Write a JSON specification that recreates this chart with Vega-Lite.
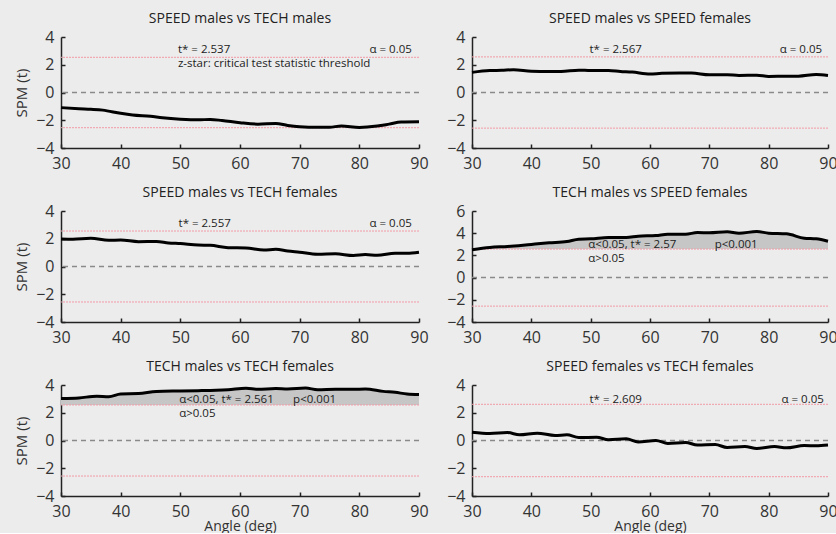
{
  "$schema": "https://vega.github.io/schema/vega-lite/v6.json",
  "background": "#ececec",
  "padding": {"left": 14, "top": 12, "right": 0, "bottom": 0},
  "config": {
    "view": {"stroke": null},
    "font": "Open Sans",
    "title": {"fontSize": 14, "fontWeight": "normal", "color": "#222", "offset": 3, "font": "Open Sans"},
    "axis": {"grid": false, "domainColor": "#222", "domainWidth": 1.5, "tickColor": "#222", "tickWidth": 1.5, "tickSize": -4, "labelPadding": 11, "labelFontSize": 16, "labelColor": "#333", "labelFont": "Open Sans", "titleFontSize": 15, "titleFontWeight": "normal", "titleColor": "#333", "titleFont": "Open Sans", "labelFlush": false, "labelOverlap": false, "tickCount": 7, "format": "d"},
    "axisY": {"titlePadding": 6},
    "axisX": {"titlePadding": 0, "titleFontSize": 14}
  },
  "datasets": {
    "curves": [
      {"panel": "A", "angle": 30, "t": -1.09}, {"panel": "A", "angle": 33, "t": -1.17}, {"panel": "A", "angle": 35, "t": -1.21}, {"panel": "A", "angle": 37, "t": -1.27}, {"panel": "A", "angle": 40, "t": -1.5}, {"panel": "A", "angle": 42, "t": -1.62}, {"panel": "A", "angle": 45, "t": -1.72}, {"panel": "A", "angle": 47, "t": -1.82}, {"panel": "A", "angle": 50, "t": -1.92}, {"panel": "A", "angle": 53, "t": -1.97}, {"panel": "A", "angle": 55, "t": -1.94}, {"panel": "A", "angle": 57, "t": -2.02}, {"panel": "A", "angle": 60, "t": -2.18}, {"panel": "A", "angle": 63, "t": -2.28}, {"panel": "A", "angle": 66, "t": -2.23}, {"panel": "A", "angle": 68, "t": -2.38}, {"panel": "A", "angle": 70, "t": -2.47}, {"panel": "A", "angle": 73, "t": -2.51}, {"panel": "A", "angle": 75, "t": -2.5}, {"panel": "A", "angle": 77, "t": -2.42}, {"panel": "A", "angle": 80, "t": -2.52}, {"panel": "A", "angle": 83, "t": -2.42}, {"panel": "A", "angle": 85, "t": -2.28}, {"panel": "A", "angle": 87, "t": -2.13}, {"panel": "A", "angle": 90, "t": -2.11},
      {"panel": "B", "angle": 30, "t": 1.45}, {"panel": "B", "angle": 33, "t": 1.58}, {"panel": "B", "angle": 35, "t": 1.6}, {"panel": "B", "angle": 37, "t": 1.64}, {"panel": "B", "angle": 40, "t": 1.54}, {"panel": "B", "angle": 43, "t": 1.52}, {"panel": "B", "angle": 45, "t": 1.52}, {"panel": "B", "angle": 48, "t": 1.61}, {"panel": "B", "angle": 50, "t": 1.58}, {"panel": "B", "angle": 53, "t": 1.59}, {"panel": "B", "angle": 55, "t": 1.52}, {"panel": "B", "angle": 57, "t": 1.47}, {"panel": "B", "angle": 60, "t": 1.33}, {"panel": "B", "angle": 62, "t": 1.38}, {"panel": "B", "angle": 65, "t": 1.4}, {"panel": "B", "angle": 67, "t": 1.4}, {"panel": "B", "angle": 70, "t": 1.28}, {"panel": "B", "angle": 73, "t": 1.28}, {"panel": "B", "angle": 75, "t": 1.23}, {"panel": "B", "angle": 78, "t": 1.25}, {"panel": "B", "angle": 80, "t": 1.16}, {"panel": "B", "angle": 83, "t": 1.18}, {"panel": "B", "angle": 85, "t": 1.18}, {"panel": "B", "angle": 88, "t": 1.3}, {"panel": "B", "angle": 90, "t": 1.23},
      {"panel": "C", "angle": 30, "t": 1.98}, {"panel": "C", "angle": 32, "t": 1.96}, {"panel": "C", "angle": 35, "t": 2.03}, {"panel": "C", "angle": 38, "t": 1.89}, {"panel": "C", "angle": 40, "t": 1.91}, {"panel": "C", "angle": 43, "t": 1.79}, {"panel": "C", "angle": 46, "t": 1.81}, {"panel": "C", "angle": 48, "t": 1.7}, {"panel": "C", "angle": 50, "t": 1.65}, {"panel": "C", "angle": 53, "t": 1.55}, {"panel": "C", "angle": 55, "t": 1.53}, {"panel": "C", "angle": 58, "t": 1.36}, {"panel": "C", "angle": 61, "t": 1.34}, {"panel": "C", "angle": 64, "t": 1.19}, {"panel": "C", "angle": 66, "t": 1.24}, {"panel": "C", "angle": 68, "t": 1.12}, {"panel": "C", "angle": 70, "t": 1.03}, {"panel": "C", "angle": 73, "t": 0.88}, {"panel": "C", "angle": 76, "t": 0.91}, {"panel": "C", "angle": 79, "t": 0.79}, {"panel": "C", "angle": 81, "t": 0.86}, {"panel": "C", "angle": 83, "t": 0.81}, {"panel": "C", "angle": 86, "t": 0.95}, {"panel": "C", "angle": 88, "t": 0.95}, {"panel": "C", "angle": 90, "t": 1.03},
      {"panel": "D", "angle": 30, "t": 2.51}, {"panel": "D", "angle": 33, "t": 2.72}, {"panel": "D", "angle": 36, "t": 2.8}, {"panel": "D", "angle": 40, "t": 2.99}, {"panel": "D", "angle": 43, "t": 3.13}, {"panel": "D", "angle": 46, "t": 3.25}, {"panel": "D", "angle": 48, "t": 3.46}, {"panel": "D", "angle": 50, "t": 3.49}, {"panel": "D", "angle": 53, "t": 3.61}, {"panel": "D", "angle": 56, "t": 3.61}, {"panel": "D", "angle": 58, "t": 3.73}, {"panel": "D", "angle": 61, "t": 3.79}, {"panel": "D", "angle": 63, "t": 3.91}, {"panel": "D", "angle": 66, "t": 3.91}, {"panel": "D", "angle": 68, "t": 4.06}, {"panel": "D", "angle": 70, "t": 4.03}, {"panel": "D", "angle": 73, "t": 4.12}, {"panel": "D", "angle": 75, "t": 4.0}, {"panel": "D", "angle": 78, "t": 4.15}, {"panel": "D", "angle": 80, "t": 4.0}, {"panel": "D", "angle": 83, "t": 3.94}, {"panel": "D", "angle": 86, "t": 3.55}, {"panel": "D", "angle": 88, "t": 3.49}, {"panel": "D", "angle": 90, "t": 3.28},
      {"panel": "E", "angle": 30, "t": 3.02}, {"panel": "E", "angle": 33, "t": 3.07}, {"panel": "E", "angle": 36, "t": 3.19}, {"panel": "E", "angle": 38, "t": 3.16}, {"panel": "E", "angle": 40, "t": 3.35}, {"panel": "E", "angle": 43, "t": 3.38}, {"panel": "E", "angle": 46, "t": 3.54}, {"panel": "E", "angle": 50, "t": 3.57}, {"panel": "E", "angle": 53, "t": 3.59}, {"panel": "E", "angle": 56, "t": 3.62}, {"panel": "E", "angle": 58, "t": 3.66}, {"panel": "E", "angle": 61, "t": 3.76}, {"panel": "E", "angle": 63, "t": 3.69}, {"panel": "E", "angle": 66, "t": 3.74}, {"panel": "E", "angle": 68, "t": 3.71}, {"panel": "E", "angle": 71, "t": 3.78}, {"panel": "E", "angle": 73, "t": 3.66}, {"panel": "E", "angle": 76, "t": 3.69}, {"panel": "E", "angle": 79, "t": 3.69}, {"panel": "E", "angle": 81, "t": 3.71}, {"panel": "E", "angle": 84, "t": 3.54}, {"panel": "E", "angle": 86, "t": 3.47}, {"panel": "E", "angle": 88, "t": 3.35}, {"panel": "E", "angle": 90, "t": 3.31},
      {"panel": "F", "angle": 30, "t": 0.6}, {"panel": "F", "angle": 33, "t": 0.5}, {"panel": "F", "angle": 36, "t": 0.57}, {"panel": "F", "angle": 38, "t": 0.41}, {"panel": "F", "angle": 41, "t": 0.53}, {"panel": "F", "angle": 44, "t": 0.36}, {"panel": "F", "angle": 46, "t": 0.41}, {"panel": "F", "angle": 48, "t": 0.21}, {"panel": "F", "angle": 51, "t": 0.24}, {"panel": "F", "angle": 53, "t": 0.05}, {"panel": "F", "angle": 56, "t": 0.12}, {"panel": "F", "angle": 58, "t": -0.1}, {"panel": "F", "angle": 61, "t": 0.0}, {"panel": "F", "angle": 63, "t": -0.21}, {"panel": "F", "angle": 66, "t": -0.14}, {"panel": "F", "angle": 68, "t": -0.33}, {"panel": "F", "angle": 71, "t": -0.29}, {"panel": "F", "angle": 73, "t": -0.5}, {"panel": "F", "angle": 76, "t": -0.43}, {"panel": "F", "angle": 78, "t": -0.57}, {"panel": "F", "angle": 81, "t": -0.43}, {"panel": "F", "angle": 83, "t": -0.53}, {"panel": "F", "angle": 86, "t": -0.36}, {"panel": "F", "angle": 88, "t": -0.38}, {"panel": "F", "angle": 90, "t": -0.33}
    ],
    "lines": [
      {"panel": "A", "kind": "threshold", "t": 2.537}, {"panel": "A", "kind": "threshold", "t": -2.537}, {"panel": "A", "kind": "zero", "t": 0},
      {"panel": "B", "kind": "threshold", "t": 2.567}, {"panel": "B", "kind": "threshold", "t": -2.567}, {"panel": "B", "kind": "zero", "t": 0},
      {"panel": "C", "kind": "threshold", "t": 2.557}, {"panel": "C", "kind": "threshold", "t": -2.557}, {"panel": "C", "kind": "zero", "t": 0},
      {"panel": "D", "kind": "threshold", "t": 2.57}, {"panel": "D", "kind": "threshold", "t": -2.57}, {"panel": "D", "kind": "zero", "t": 0},
      {"panel": "E", "kind": "threshold", "t": 2.561}, {"panel": "E", "kind": "threshold", "t": -2.561}, {"panel": "E", "kind": "zero", "t": 0},
      {"panel": "F", "kind": "threshold", "t": 2.609}, {"panel": "F", "kind": "threshold", "t": -2.609}, {"panel": "F", "kind": "zero", "t": 0}
    ]
  },
  "columns": 2,
  "spacing": {"row": 15, "column": 17},
  "concat": [
    {
      "width": 358, "height": 111,
      "title": "SPEED males vs TECH males",
      "layer": [
        {"data": {"name": "lines"}, "transform": [{"filter": "datum.panel === 'A' && datum.kind === 'threshold'"}], "mark": {"type": "rule", "color": "#f29aa6", "strokeWidth": 1, "strokeDash": [2, 1]}, "encoding": {"y": {"field": "t", "type": "quantitative"}}},
        {"data": {"name": "lines"}, "transform": [{"filter": "datum.panel === 'A' && datum.kind === 'zero'"}], "mark": {"type": "rule", "color": "#8a8a8a", "strokeWidth": 1.5, "strokeDash": [5, 4]}, "encoding": {"y": {"field": "t", "type": "quantitative"}}},
        {"data": {"name": "curves"}, "transform": [{"filter": "datum.panel === 'A'"}], "mark": {"type": "line", "color": "#000", "strokeWidth": 3, "interpolate": "monotone"},
         "encoding": {
           "x": {"field": "angle", "type": "quantitative", "scale": {"domain": [30, 90], "nice": false}, "axis": {"values": [30, 40, 50, 60, 70, 80, 90], "title": null}},
           "y": {"field": "t", "type": "quantitative", "scale": {"domain": [-4, 4], "nice": false}, "axis": {"values": [-4, -2, 0, 2, 4], "title": "SPM (t)"}}}},
        {"data": {"name": "lines"}, "transform": [{"filter": "datum.panel === 'A' && datum.kind === 'zero'"}], "mark": {"type": "text", "text": "t* = 2.537", "align": "left", "baseline": "middle", "fontSize": 11.5, "color": "#222"}, "encoding": {"x": {"datum": 49.6, "type": "quantitative"}, "y": {"datum": 3.05, "type": "quantitative"}}},
        {"data": {"name": "lines"}, "transform": [{"filter": "datum.panel === 'A' && datum.kind === 'zero'"}], "mark": {"type": "text", "text": "z-star: critical test statistic threshold", "align": "left", "baseline": "middle", "fontSize": 11.5, "color": "#222"}, "encoding": {"x": {"datum": 49.6, "type": "quantitative"}, "y": {"datum": 2.03, "type": "quantitative"}}},
        {"data": {"name": "lines"}, "transform": [{"filter": "datum.panel === 'A' && datum.kind === 'zero'"}], "mark": {"type": "text", "text": "α = 0.05", "align": "right", "baseline": "middle", "fontSize": 11.5, "color": "#222"}, "encoding": {"x": {"datum": 88.8, "type": "quantitative"}, "y": {"datum": 3.05, "type": "quantitative"}}}
      ]
    },
    {
      "width": 356, "height": 111,
      "title": "SPEED males vs SPEED females",
      "layer": [
        {"data": {"name": "lines"}, "transform": [{"filter": "datum.panel === 'B' && datum.kind === 'threshold'"}], "mark": {"type": "rule", "color": "#f29aa6", "strokeWidth": 1, "strokeDash": [2, 1]}, "encoding": {"y": {"field": "t", "type": "quantitative"}}},
        {"data": {"name": "lines"}, "transform": [{"filter": "datum.panel === 'B' && datum.kind === 'zero'"}], "mark": {"type": "rule", "color": "#8a8a8a", "strokeWidth": 1.5, "strokeDash": [5, 4]}, "encoding": {"y": {"field": "t", "type": "quantitative"}}},
        {"data": {"name": "curves"}, "transform": [{"filter": "datum.panel === 'B'"}], "mark": {"type": "line", "color": "#000", "strokeWidth": 3, "interpolate": "monotone"},
         "encoding": {
           "x": {"field": "angle", "type": "quantitative", "scale": {"domain": [30, 90], "nice": false}, "axis": {"values": [30, 40, 50, 60, 70, 80, 90], "title": null}},
           "y": {"field": "t", "type": "quantitative", "scale": {"domain": [-4, 4], "nice": false}, "axis": {"values": [-4, -2, 0, 2, 4], "title": null}}}},
        {"data": {"name": "lines"}, "transform": [{"filter": "datum.panel === 'B' && datum.kind === 'zero'"}], "mark": {"type": "text", "text": "t* = 2.567", "align": "left", "baseline": "middle", "fontSize": 11.5, "color": "#222"}, "encoding": {"x": {"datum": 49.8, "type": "quantitative"}, "y": {"datum": 3.05, "type": "quantitative"}}},
        {"data": {"name": "lines"}, "transform": [{"filter": "datum.panel === 'B' && datum.kind === 'zero'"}], "mark": {"type": "text", "text": "α = 0.05", "align": "right", "baseline": "middle", "fontSize": 11.5, "color": "#222"}, "encoding": {"x": {"datum": 89.0, "type": "quantitative"}, "y": {"datum": 3.05, "type": "quantitative"}}}
      ]
    },
    {
      "width": 358, "height": 111,
      "title": "SPEED males vs TECH females",
      "layer": [
        {"data": {"name": "lines"}, "transform": [{"filter": "datum.panel === 'C' && datum.kind === 'threshold'"}], "mark": {"type": "rule", "color": "#f29aa6", "strokeWidth": 1, "strokeDash": [2, 1]}, "encoding": {"y": {"field": "t", "type": "quantitative"}}},
        {"data": {"name": "lines"}, "transform": [{"filter": "datum.panel === 'C' && datum.kind === 'zero'"}], "mark": {"type": "rule", "color": "#8a8a8a", "strokeWidth": 1.5, "strokeDash": [5, 4]}, "encoding": {"y": {"field": "t", "type": "quantitative"}}},
        {"data": {"name": "curves"}, "transform": [{"filter": "datum.panel === 'C'"}], "mark": {"type": "line", "color": "#000", "strokeWidth": 3, "interpolate": "monotone"},
         "encoding": {
           "x": {"field": "angle", "type": "quantitative", "scale": {"domain": [30, 90], "nice": false}, "axis": {"values": [30, 40, 50, 60, 70, 80, 90], "title": null}},
           "y": {"field": "t", "type": "quantitative", "scale": {"domain": [-4, 4], "nice": false}, "axis": {"values": [-4, -2, 0, 2, 4], "title": "SPM (t)"}}}},
        {"data": {"name": "lines"}, "transform": [{"filter": "datum.panel === 'C' && datum.kind === 'zero'"}], "mark": {"type": "text", "text": "t* = 2.557", "align": "left", "baseline": "middle", "fontSize": 11.5, "color": "#222"}, "encoding": {"x": {"datum": 49.7, "type": "quantitative"}, "y": {"datum": 3.05, "type": "quantitative"}}},
        {"data": {"name": "lines"}, "transform": [{"filter": "datum.panel === 'C' && datum.kind === 'zero'"}], "mark": {"type": "text", "text": "α = 0.05", "align": "right", "baseline": "middle", "fontSize": 11.5, "color": "#222"}, "encoding": {"x": {"datum": 88.8, "type": "quantitative"}, "y": {"datum": 3.05, "type": "quantitative"}}}
      ]
    },
    {
      "width": 356, "height": 111,
      "title": "TECH males vs SPEED females",
      "layer": [
        {"data": {"name": "curves"}, "transform": [{"filter": "datum.panel === 'D'"}], "mark": {"type": "area", "color": "#c6c6c6", "opacity": 1, "interpolate": "monotone"}, "encoding": {"x": {"field": "angle", "type": "quantitative"}, "y": {"field": "t", "type": "quantitative"}, "y2": {"datum": 2.57}}},
        {"data": {"name": "lines"}, "transform": [{"filter": "datum.panel === 'D' && datum.kind === 'threshold'"}], "mark": {"type": "rule", "color": "#f29aa6", "strokeWidth": 1, "strokeDash": [2, 1]}, "encoding": {"y": {"field": "t", "type": "quantitative"}}},
        {"data": {"name": "lines"}, "transform": [{"filter": "datum.panel === 'D' && datum.kind === 'zero'"}], "mark": {"type": "rule", "color": "#8a8a8a", "strokeWidth": 1.5, "strokeDash": [5, 4]}, "encoding": {"y": {"field": "t", "type": "quantitative"}}},
        {"data": {"name": "curves"}, "transform": [{"filter": "datum.panel === 'D'"}], "mark": {"type": "line", "color": "#000", "strokeWidth": 3, "interpolate": "monotone"},
         "encoding": {
           "x": {"field": "angle", "type": "quantitative", "scale": {"domain": [30, 90], "nice": false}, "axis": {"values": [30, 40, 50, 60, 70, 80, 90], "title": null}},
           "y": {"field": "t", "type": "quantitative", "scale": {"domain": [-4, 6], "nice": false}, "axis": {"values": [-4, -2, 0, 2, 4, 6], "title": null}}}},
        {"data": {"name": "lines"}, "transform": [{"filter": "datum.panel === 'D' && datum.kind === 'zero'"}], "mark": {"type": "text", "text": "α<0.05, t* = 2.57", "align": "left", "baseline": "middle", "fontSize": 11.5, "color": "#222"}, "encoding": {"x": {"datum": 49.6, "type": "quantitative"}, "y": {"datum": 2.96, "type": "quantitative"}}},
        {"data": {"name": "lines"}, "transform": [{"filter": "datum.panel === 'D' && datum.kind === 'zero'"}], "mark": {"type": "text", "text": "p<0.001", "align": "left", "baseline": "middle", "fontSize": 11.5, "color": "#222"}, "encoding": {"x": {"datum": 70.9, "type": "quantitative"}, "y": {"datum": 2.96, "type": "quantitative"}}},
        {"data": {"name": "lines"}, "transform": [{"filter": "datum.panel === 'D' && datum.kind === 'zero'"}], "mark": {"type": "text", "text": "α>0.05", "align": "left", "baseline": "middle", "fontSize": 11.5, "color": "#222"}, "encoding": {"x": {"datum": 49.6, "type": "quantitative"}, "y": {"datum": 1.72, "type": "quantitative"}}}
      ]
    },
    {
      "width": 358, "height": 111,
      "title": "TECH males vs TECH females",
      "layer": [
        {"data": {"name": "curves"}, "transform": [{"filter": "datum.panel === 'E'"}], "mark": {"type": "area", "color": "#c6c6c6", "opacity": 1, "interpolate": "monotone"}, "encoding": {"x": {"field": "angle", "type": "quantitative"}, "y": {"field": "t", "type": "quantitative"}, "y2": {"datum": 2.561}}},
        {"data": {"name": "lines"}, "transform": [{"filter": "datum.panel === 'E' && datum.kind === 'threshold'"}], "mark": {"type": "rule", "color": "#f29aa6", "strokeWidth": 1, "strokeDash": [2, 1]}, "encoding": {"y": {"field": "t", "type": "quantitative"}}},
        {"data": {"name": "lines"}, "transform": [{"filter": "datum.panel === 'E' && datum.kind === 'zero'"}], "mark": {"type": "rule", "color": "#8a8a8a", "strokeWidth": 1.5, "strokeDash": [5, 4]}, "encoding": {"y": {"field": "t", "type": "quantitative"}}},
        {"data": {"name": "curves"}, "transform": [{"filter": "datum.panel === 'E'"}], "mark": {"type": "line", "color": "#000", "strokeWidth": 3, "interpolate": "monotone"},
         "encoding": {
           "x": {"field": "angle", "type": "quantitative", "scale": {"domain": [30, 90], "nice": false}, "axis": {"values": [30, 40, 50, 60, 70, 80, 90], "title": "Angle (deg)"}},
           "y": {"field": "t", "type": "quantitative", "scale": {"domain": [-4, 4], "nice": false}, "axis": {"values": [-4, -2, 0, 2, 4], "title": "SPM (t)"}}}},
        {"data": {"name": "lines"}, "transform": [{"filter": "datum.panel === 'E' && datum.kind === 'zero'"}], "mark": {"type": "text", "text": "α<0.05, t* = 2.561", "align": "left", "baseline": "middle", "fontSize": 11.5, "color": "#222"}, "encoding": {"x": {"datum": 49.8, "type": "quantitative"}, "y": {"datum": 2.92, "type": "quantitative"}}},
        {"data": {"name": "lines"}, "transform": [{"filter": "datum.panel === 'E' && datum.kind === 'zero'"}], "mark": {"type": "text", "text": "p<0.001", "align": "left", "baseline": "middle", "fontSize": 11.5, "color": "#222"}, "encoding": {"x": {"datum": 68.9, "type": "quantitative"}, "y": {"datum": 2.92, "type": "quantitative"}}},
        {"data": {"name": "lines"}, "transform": [{"filter": "datum.panel === 'E' && datum.kind === 'zero'"}], "mark": {"type": "text", "text": "α>0.05", "align": "left", "baseline": "middle", "fontSize": 11.5, "color": "#222"}, "encoding": {"x": {"datum": 49.8, "type": "quantitative"}, "y": {"datum": 1.94, "type": "quantitative"}}}
      ]
    },
    {
      "width": 356, "height": 111,
      "title": "SPEED females vs TECH females",
      "layer": [
        {"data": {"name": "lines"}, "transform": [{"filter": "datum.panel === 'F' && datum.kind === 'threshold'"}], "mark": {"type": "rule", "color": "#f29aa6", "strokeWidth": 1, "strokeDash": [2, 1]}, "encoding": {"y": {"field": "t", "type": "quantitative"}}},
        {"data": {"name": "lines"}, "transform": [{"filter": "datum.panel === 'F' && datum.kind === 'zero'"}], "mark": {"type": "rule", "color": "#8a8a8a", "strokeWidth": 1.5, "strokeDash": [5, 4]}, "encoding": {"y": {"field": "t", "type": "quantitative"}}},
        {"data": {"name": "curves"}, "transform": [{"filter": "datum.panel === 'F'"}], "mark": {"type": "line", "color": "#000", "strokeWidth": 3, "interpolate": "monotone"},
         "encoding": {
           "x": {"field": "angle", "type": "quantitative", "scale": {"domain": [30, 90], "nice": false}, "axis": {"values": [30, 40, 50, 60, 70, 80, 90], "title": "Angle (deg)"}},
           "y": {"field": "t", "type": "quantitative", "scale": {"domain": [-4, 4], "nice": false}, "axis": {"values": [-4, -2, 0, 2, 4], "title": null}}}},
        {"data": {"name": "lines"}, "transform": [{"filter": "datum.panel === 'F' && datum.kind === 'zero'"}], "mark": {"type": "text", "text": "t* = 2.609", "align": "left", "baseline": "middle", "fontSize": 11.5, "color": "#222"}, "encoding": {"x": {"datum": 49.8, "type": "quantitative"}, "y": {"datum": 2.9, "type": "quantitative"}}},
        {"data": {"name": "lines"}, "transform": [{"filter": "datum.panel === 'F' && datum.kind === 'zero'"}], "mark": {"type": "text", "text": "α = 0.05", "align": "right", "baseline": "middle", "fontSize": 11.5, "color": "#222"}, "encoding": {"x": {"datum": 89.3, "type": "quantitative"}, "y": {"datum": 2.9, "type": "quantitative"}}}
      ]
    }
  ]
}
